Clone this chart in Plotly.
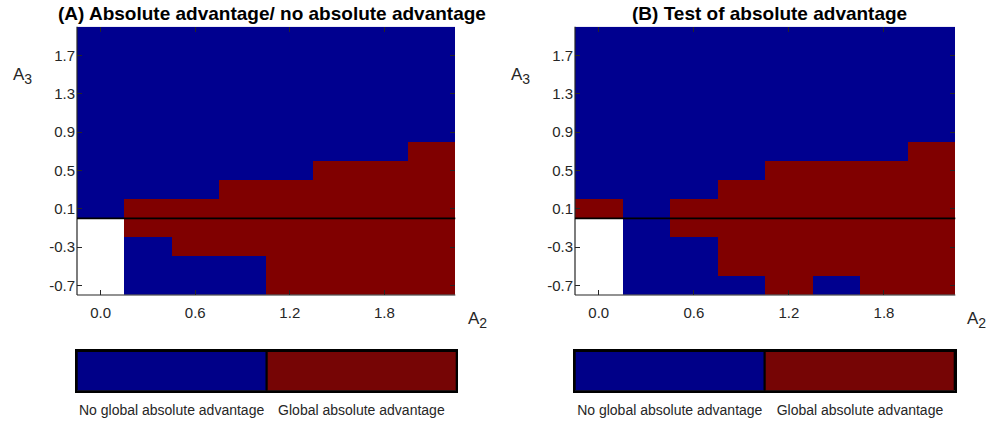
import plotly.graph_objects as go

# Parameter grid
A2 = [0.0, 0.3, 0.6, 0.9, 1.2, 1.5, 1.8, 2.1]
A3 = [-0.7, -0.5, -0.3, -0.1, 0.1, 0.3, 0.5, 0.7, 0.9, 1.1, 1.3, 1.5, 1.7, 1.9]

# 0 = no global absolute advantage, 1 = global absolute advantage, None = undefined
N = None
adv_a = [
    [N, 0, 0, 0, 1, 1, 1, 1],
    [N, 0, 0, 0, 1, 1, 1, 1],
    [N, 0, 1, 1, 1, 1, 1, 1],
    [N, 1, 1, 1, 1, 1, 1, 1],
    [0, 1, 1, 1, 1, 1, 1, 1],
    [0, 0, 0, 1, 1, 1, 1, 1],
    [0, 0, 0, 0, 0, 1, 1, 1],
    [0, 0, 0, 0, 0, 0, 0, 1],
    [0, 0, 0, 0, 0, 0, 0, 0],
    [0, 0, 0, 0, 0, 0, 0, 0],
    [0, 0, 0, 0, 0, 0, 0, 0],
    [0, 0, 0, 0, 0, 0, 0, 0],
    [0, 0, 0, 0, 0, 0, 0, 0],
    [0, 0, 0, 0, 0, 0, 0, 0],
]
adv_b = [
    [N, 0, 0, 0, 1, 0, 1, 1],
    [N, 0, 0, 1, 1, 1, 1, 1],
    [N, 0, 0, 1, 1, 1, 1, 1],
    [N, 0, 1, 1, 1, 1, 1, 1],
    [1, 0, 1, 1, 1, 1, 1, 1],
    [0, 0, 0, 1, 1, 1, 1, 1],
    [0, 0, 0, 0, 1, 1, 1, 1],
    [0, 0, 0, 0, 0, 0, 0, 1],
    [0, 0, 0, 0, 0, 0, 0, 0],
    [0, 0, 0, 0, 0, 0, 0, 0],
    [0, 0, 0, 0, 0, 0, 0, 0],
    [0, 0, 0, 0, 0, 0, 0, 0],
    [0, 0, 0, 0, 0, 0, 0, 0],
    [0, 0, 0, 0, 0, 0, 0, 0],
]

x_ticks = [0.0, 0.6, 1.2, 1.8]
y_ticks = [-0.7, -0.3, 0.1, 0.5, 0.9, 1.3, 1.7]
titles = ["(A) Absolute advantage/ no absolute advantage", "(B) Test of absolute advantage"]
legend_labels = ["No global absolute advantage", "Global absolute advantage"]
legend_values = [1, 1]

BLUE = "#00008F"
RED = "#800000"
BAR_BLUE = "#000088"
BAR_RED = "#760505"
TXT = "#262626"
FONT = "Liberation Sans, Arial, sans-serif"
W, H = 991, 423

colorscale = [[0, BLUE], [0.5, BLUE], [0.5, RED], [1, RED]]

fig = go.Figure()

# panel geometry in pixels: (left, right, top, bottom)
panels = [
    dict(x=(77, 455.3), y=(26.7, 295), bar_x=(76.7, 456.3), title_x=272, a3=(22, 76), a2=(477, 320)),
    dict(x=(575, 955.3), y=(26.7, 295), bar_x=(574.7, 955.0), title_x=769, a3=(520, 76), a2=(976, 320)),
]
bar_y = (351, 390.7)


def px_dom_x(a, b):
    return [a / W, b / W]


def px_dom_y(top, bottom):
    return [(H - bottom) / H, (H - top) / H]


def subscripted(base, sub):
    return f'{base}<sub><span style="font-size:14px">{sub}</span></sub>'


layout = dict(
    width=W, height=H, margin=dict(l=0, r=0, t=0, b=0),
    paper_bgcolor="white", plot_bgcolor="white",
    font=dict(family=FONT, size=15, color=TXT),
    showlegend=False,
)
shapes = []
annotations = []

for i, (p, z) in enumerate(zip(panels, [adv_a, adv_b])):
    xa = f"x{2 * i + 1}" if i else "x"
    ya = f"y{2 * i + 1}" if i else "y"
    xk = f"xaxis{2 * i + 1}" if i else "xaxis"
    yk = f"yaxis{2 * i + 1}" if i else "yaxis"
    bx = f"x{2 * i + 2}"
    by = f"y{2 * i + 2}"
    bxk = f"xaxis{2 * i + 2}"
    byk = f"yaxis{2 * i + 2}"

    fig.add_trace(go.Heatmap(
        x=A2, y=A3, z=z, xaxis=xa, yaxis=ya,
        colorscale=colorscale, zmin=0, zmax=1, showscale=False,
        hoverongaps=False,
    ))

    layout[xk] = dict(
        domain=px_dom_x(*p["x"]), anchor=ya, range=[-0.15, 2.25],
        tickvals=x_ticks, ticktext=[f"{v:.1f}" for v in x_ticks],
        ticks="inside", ticklen=5, tickcolor=TXT, mirror="ticks",
        showline=False, showgrid=False, zeroline=False,
        tickfont=dict(size=15, color=TXT), ticklabelstandoff=7,
    )
    layout[yk] = dict(
        domain=px_dom_y(*p["y"]), anchor=xa, range=[-0.8, 2.0],
        tickvals=y_ticks, ticktext=[f"{v:.1f}" for v in y_ticks],
        ticks="inside", ticklen=5, tickcolor=TXT, mirror="ticks",
        showline=False, showgrid=False, zeroline=False,
        tickfont=dict(size=15, color=TXT), ticklabelstandoff=1,
    )

    # left and bottom axis lines
    shapes.append(dict(type="line", xref=f"{xa} domain", yref=f"{ya} domain",
                       x0=0, x1=0, y0=0, y1=1, line=dict(color=TXT, width=1.2)))
    shapes.append(dict(type="line", xref=f"{xa} domain", yref=f"{ya} domain",
                       x0=0, x1=1, y0=0, y1=0, line=dict(color=TXT, width=1.2)))
    # A3 = 0 boundary
    shapes.append(dict(type="line", xref=f"{xa} domain", yref=ya,
                       x0=0, x1=1, y0=0, y1=0, line=dict(color="black", width=1.6)))

    # category key bar
    fig.add_trace(go.Bar(
        x=[0, 1], y=legend_values, width=1, xaxis=bx, yaxis=by,
        marker=dict(color=[BAR_BLUE, BAR_RED], line=dict(color="black", width=2)),
        hoverinfo="skip",
    ))
    layout[bxk] = dict(
        domain=px_dom_x(*p["bar_x"]), anchor=by, range=[-0.5, 1.5],
        tickvals=[0, 1], ticktext=legend_labels, ticks="",
        showline=True, mirror=True, linecolor="black", linewidth=2,
        showgrid=False, zeroline=False, fixedrange=True,
        tickfont=dict(size=14, color=TXT), ticklabelstandoff=5,
    )
    layout[byk] = dict(
        domain=px_dom_y(*bar_y), anchor=bx, range=[0, 1],
        showticklabels=False, ticks="", showline=True, mirror=True,
        linecolor="black", linewidth=2, showgrid=False, zeroline=False,
    )

    annotations.append(dict(
        text=f"<b>{titles[i]}</b>", x=p["title_x"] / W, y=1 - 13 / H,
        xref="paper", yref="paper", showarrow=False,
        font=dict(size=19, color="black", family=FONT),
        xanchor="center", yanchor="middle",
    ))
    annotations.append(dict(
        text=subscripted("A", "3"), x=p["a3"][0] / W, y=1 - p["a3"][1] / H,
        xref="paper", yref="paper", showarrow=False,
        font=dict(size=17, color=TXT, family=FONT),
        xanchor="center", yanchor="middle",
    ))
    annotations.append(dict(
        text=subscripted("A", "2"), x=p["a2"][0] / W, y=1 - p["a2"][1] / H,
        xref="paper", yref="paper", showarrow=False,
        font=dict(size=17, color=TXT, family=FONT),
        xanchor="center", yanchor="middle",
    ))

layout["shapes"] = shapes
layout["annotations"] = annotations
fig.update_layout(**layout)
fig.update_layout(bargap=0)

fig.write_html("out.html")
